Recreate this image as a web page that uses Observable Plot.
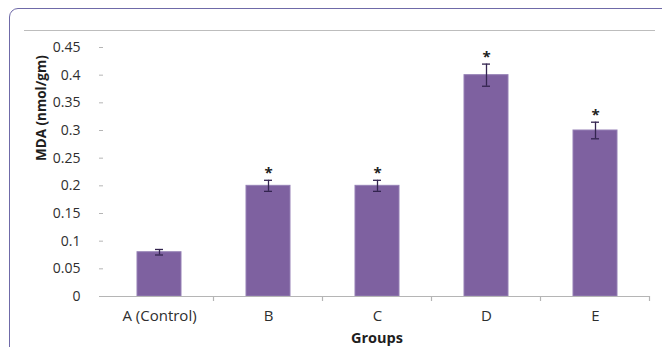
<!DOCTYPE html>
<html>
<head>
<meta charset="utf-8">
<script src="https://cdn.jsdelivr.net/npm/d3@7"></script>
<script src="https://cdn.jsdelivr.net/npm/@observablehq/plot@0.6"></script>
<style>
  html, body { margin: 0; padding: 0; background: #fff; }
  #wrap { position: relative; width: 662px; height: 347px; overflow: hidden; font-family: "Open Sans", sans-serif; }
  #frame { position: absolute; left: 9px; top: 8px; width: 700px; height: 400px;
           border: 1.5px solid #6f6aa8; border-radius: 9px; box-sizing: border-box; }
  #rule { position: absolute; left: 24px; top: 30px; width: 631px; height: 0; border-top: 1px solid #bdbdbd; }
  #chart { position: absolute; left: 0; top: 0; }
</style>
</head>
<body>
<div id="wrap">
  <div id="frame"></div>
  <div id="rule"></div>
  <div id="chart"></div>
</div>
<script>
// MDA level per group, with standard error
const groups = ["A (Control)", "B", "C", "D", "E"];
const mda = [0.08, 0.2, 0.2, 0.4, 0.3];
const sem = [0.005, 0.01, 0.01, 0.02, 0.015];
const significant = [false, true, true, true, true];
const yTicks = [0, 0.05, 0.1, 0.15, 0.2, 0.25, 0.3, 0.35, 0.4, 0.45];
const yTickLabels = ["0", "0.05", "0.1", "0.15", "0.2", "0.25", "0.3", "0.35", "0.4", "0.45"];
const yLabel = "MDA (nmol/gm)";
const xLabel = "Groups";

const rows = groups.map((g, i) => ({group: g, value: mda[i], err: sem[i], star: significant[i]}));

// Tick marks on the category axis sit between the groups
const boundaryTicks = (index, scales) => {
  const x = scales.x, y = scales.y;
  const step = x.step ? x.step() : 0, bw = x.bandwidth ? x.bandwidth() : 0;
  const y0 = y(0);
  const g = d3.create("svg:g").attr("stroke", "#b5b5b5").attr("stroke-width", 1.2);
  groups.forEach((name) => {
    const cx = x(name) + bw / 2 + step / 2;
    g.append("line").attr("x1", cx).attr("x2", cx).attr("y1", y0).attr("y2", y0 + 5);
  });
  return g.node();
};

const chart = Plot.plot({
  width: 662,
  height: 347,
  marginLeft: 103,
  marginRight: 12,
  marginTop: 47,
  marginBottom: 51,
  style: {fontFamily: "'Open Sans', sans-serif", fontSize: "14px", color: "#333", background: "transparent"},
  x: {domain: groups, paddingInner: 0.6, paddingOuter: 0.3, label: null},
  y: {domain: [0, 0.45], label: null},
  marks: [
    Plot.axisY({ticks: yTicks, tickFormat: (d) => yTickLabels[yTicks.indexOf(d)], tickSize: 4, tickPadding: 19, stroke: "#b5b5b5", fontSize: 14, fill: "#2e2e2e"}),
    Plot.axisX({tickSize: 0, tickPadding: 14, fontSize: 15, fill: "#2e2e2e"}),
    Plot.barY(rows, {x: "group", y: "value", fill: "#7e61a0", stroke: "#9580b5", strokeWidth: 1}),
    Plot.ruleX(rows, {x: "group", y1: d => d.value - d.err, y2: d => d.value + d.err, stroke: "#33244f", strokeWidth: 1.3}),
    Plot.tickY(rows, {x: "group", y: d => d.value + d.err, stroke: "#33244f", strokeWidth: 1.3, insetLeft: 18, insetRight: 18}),
    Plot.tickY(rows, {x: "group", y: d => d.value - d.err, stroke: "#33244f", strokeWidth: 1.3, insetLeft: 18, insetRight: 18}),
    Plot.text(rows.filter(d => d.star), {x: "group", y: d => d.value + d.err, text: () => "*", dy: -2, lineAnchor: "bottom", fontSize: 15, fontWeight: "bold", fill: "#222"}),
    Plot.ruleY([0], {stroke: "#b5b5b5", strokeWidth: 1.2}),
    boundaryTicks,
    Plot.text([yLabel], {frameAnchor: "left", rotate: -90, dx: -62, dy: -11, fontWeight: "bold", fontSize: 13.5, fill: "#1e1e1e"}),
    Plot.text([xLabel], {frameAnchor: "bottom", dy: 46, fontWeight: "bold", fontSize: 14.5, fill: "#1e1e1e"})
  ]
});

document.getElementById("chart").appendChild(chart);
</script>
</body>
</html>
